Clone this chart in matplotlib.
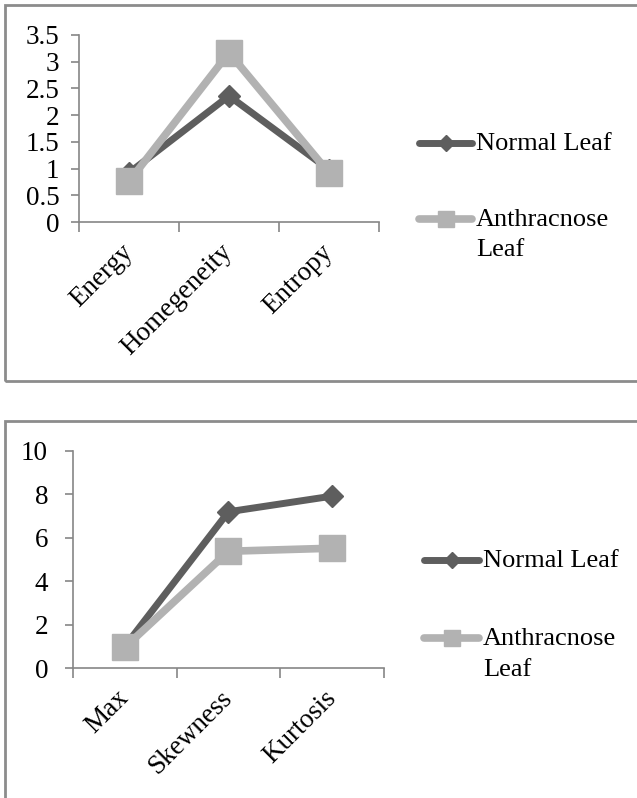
import matplotlib
matplotlib.use("Agg")
import matplotlib.pyplot as plt
from matplotlib.patches import Rectangle
from matplotlib.lines import Line2D

# data
glcm_names = ["Energy", "Homegeneity", "Entropy"]
glcm_normal = [0.92, 2.36, 0.98]
glcm_anthracnose = [0.76, 3.17, 0.92]

stat_names = ["Max", "Skewness", "Kurtosis"]
stat_normal = [1.0, 7.2, 7.92]
stat_anthracnose = [0.95, 5.38, 5.52]

series_labels = ["Normal Leaf", "Anthracnose\nLeaf"]

DARK = "#5e5e5e"
LIGHT = "#b2b2b2"
AXC = "#868686"
W, H = 637, 798

plt.rcParams["font.family"] = ["Liberation Serif", "DejaVu Serif"]
plt.rcParams["font.size"] = 19.5

fig = plt.figure(figsize=(W / 100, H / 100), dpi=100)


def px(x0, y0, x1, y1):
	# pixel box (top-left origin) -> figure fraction
	return [x0 / W, 1 - y1 / H, (x1 - x0) / W, (y1 - y0) / H]


def panel(box, names, normal, anthr, ymax, ystep, ypad):
	ax = fig.add_axes(box)
	x = list(range(len(names)))
	ax.plot(x, normal, color=DARK, lw=5, marker="D", ms=11.5, zorder=3,
		solid_capstyle="round")
	ax.plot(x, anthr, color=LIGHT, lw=5.5, marker="s", ms=18.5, zorder=4,
		solid_capstyle="round")
	ax.set_xlim(-0.5, len(names) - 0.5)
	ax.set_ylim(0, ymax)
	yt = [i * ystep for i in range(int(round(ymax / ystep)) + 1)]
	ax.set_yticks(yt)
	ax.set_yticklabels(["%g" % v for v in yt])
	ax.set_xticks([i - 0.5 for i in range(len(names) + 1)])
	ax.set_xticklabels([])
	ax.set_xticks(x, minor=True)
	ax.set_xticklabels(names, minor=True, rotation=45, ha="right",
		va="center", rotation_mode="anchor")
	ax.tick_params(axis="x", which="minor", length=0, pad=19)
	ax.tick_params(axis="x", which="major", length=7, width=1.2, color=AXC,
		direction="out")
	ax.tick_params(axis="y", length=6, width=1.2, color=AXC, direction="out",
		pad=ypad)
	for s in ["top", "right"]:
		ax.spines[s].set_visible(False)
	for s in ["left", "bottom"]:
		ax.spines[s].set_color(AXC)
		ax.spines[s].set_linewidth(1.2)
	ax.set_facecolor("none")
	return ax


panel(px(79, 35, 379, 222), glcm_names, glcm_normal, glcm_anthracnose,
	3.5, 0.5, 8)
panel(px(73, 451, 384, 668), stat_names, stat_normal, stat_anthracnose,
	10, 2, 12)


def legend(x0, x1, y_norm, y_anth):
	xm = (x0 + x1) / 2
	for y, col, mk, ms, lw, lab in [
		(y_norm, DARK, "D", 8, 5, series_labels[0]),
		(y_anth, LIGHT, "s", 11, 5.5, series_labels[1]),
	]:
		fy = 1 - y / H
		fig.add_artist(Line2D([x0 / W, x1 / W], [fy, fy], color=col, lw=lw,
			solid_capstyle="round"))
		fig.add_artist(Line2D([xm / W], [fy], color=col, marker=mk, ms=ms,
			lw=0))
		fig.text((x1 + 4) / W, fy + 10 / H, lab, ha="left", va="top",
			linespacing=1.5, fontsize=19)


legend(419, 472, 143, 219)
legend(424, 479, 560, 638)

# chart borders
fig.add_artist(Rectangle((5 / W, 1 - 381 / H), 700 / W, 376 / H,
	transform=fig.transFigure, fill=False, ec="#8c8c8c", lw=2))
fig.add_artist(Rectangle((5 / W, -0.1), 700 / W, 1 - 421 / H + 0.1,
	transform=fig.transFigure, fill=False, ec="#8c8c8c", lw=2))

fig.savefig("out.png", dpi=100)
